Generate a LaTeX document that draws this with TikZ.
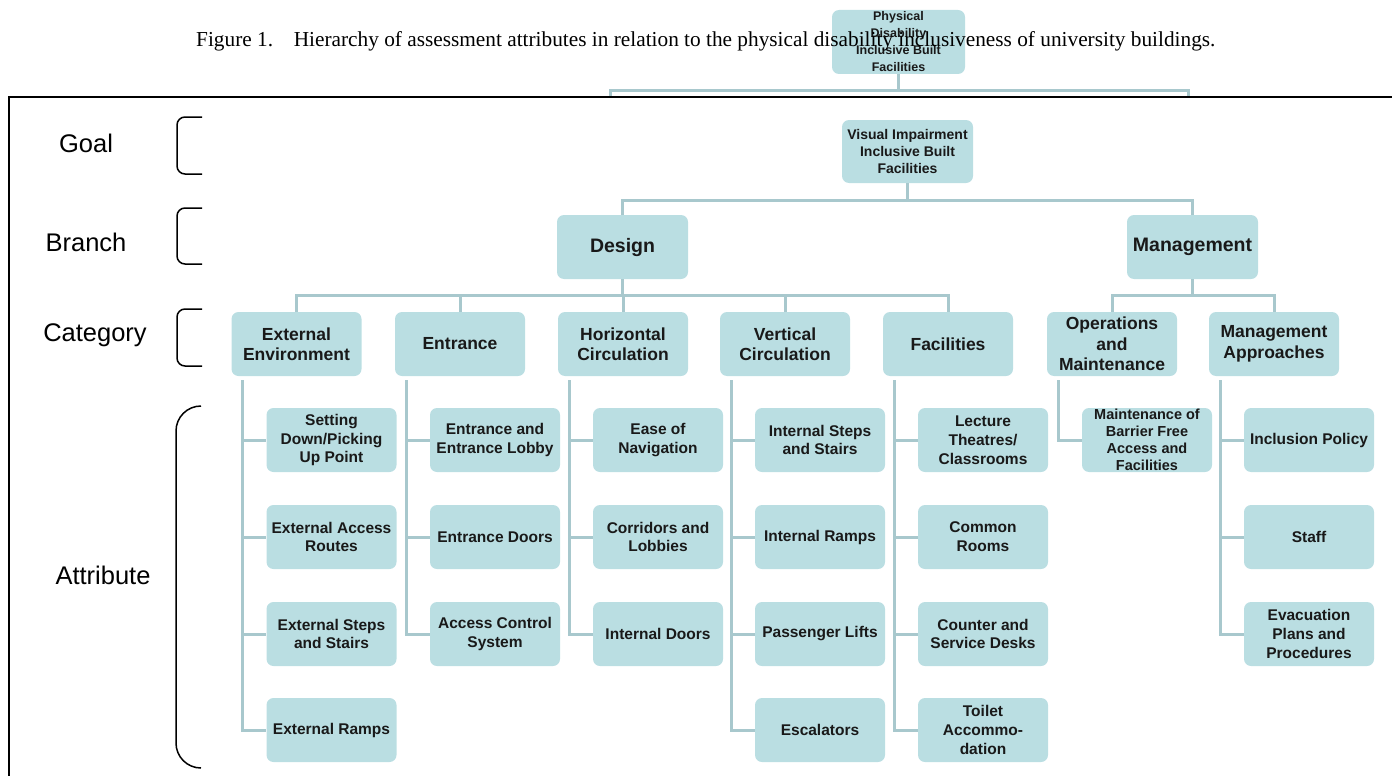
\documentclass[tikz,border=0pt]{standalone}
\usepackage{fontspec}
\setmainfont{Liberation Sans}
\newfontfamily\capfont{Liberation Serif}
\usepackage{tikz}
\usepackage{xcolor}
\definecolor{ColBox}{RGB}{186,222,226}
\definecolor{ColLine}{RGB}{168,200,205}
\tikzstyle{BoxTree}=[rounded corners=7pt,fill=ColBox,align=center,inner sep=1pt,
minimum width=130pt,minimum height=64pt,text=black!90]
\tikzstyle{TopNode}=[BoxTree,minimum width=133pt,font=\bfseries\fontsize{12.5}{17}\selectfont]
\tikzstyle{GoalNode}=[BoxTree,minimum width=131pt,minimum height=63pt,font=\bfseries\fontsize{14}{16.7}\selectfont]
\tikzstyle{BranchNode}=[BoxTree,minimum width=131pt,font=\bfseries\fontsize{19.5}{23}\selectfont]
\tikzstyle{CatNode}=[BoxTree,font=\bfseries\fontsize{17.5}{20.5}\selectfont]
\tikzstyle{AttrNode}=[BoxTree,font=\bfseries\fontsize{15.5}{18.8}\selectfont]
\tikzstyle{SmallAttrNode}=[BoxTree,font=\bfseries\fontsize{14.5}{17}\selectfont]
\tikzstyle{EdgeTree}=[ColLine,line width=3pt]
\tikzstyle{Bracket}=[black,line width=1.5pt]
\tikzstyle{LevelLabel}=[font=\fontsize{25.5}{30}\selectfont]
\begin{document}
\begin{tikzpicture}[x=1pt,y=-1pt]
        \useasboundingbox(0,0)rectangle(1392,776);
        \node[TopNode](phys)at(898.5,42){Physical\\Disability\\Inclusive Built\\Facilities};
        \node[anchor=base west,inner sep=0pt,font=\capfont\fontsize{21.3}{24}\selectfont](cap)at(196,47){Figure 1.\hspace{20.7pt}Hierarchy of assessment attributes in relation to the physical disability inclusiveness of university buildings.};
        \coordinate(ta)at(610,97);
        \coordinate(tb)at(1188,97);
        \draw[EdgeTree](phys.south)--++(0,16)-|(ta);
        \draw[EdgeTree](phys.south)--++(0,16)-|(tb);
        \draw[line width=2pt](9,776)--(9,97)--(1392,97);
        \node[LevelLabel](lgoal)at(86,143){Goal};
        \node[LevelLabel](lbranch)at(86,242){Branch};
        \node[LevelLabel](lcat)at(95,335){Category};
        \node[LevelLabel](lattr)at(103,575){Attribute};
        \draw[Bracket,rounded corners=8pt](202,117)--(177,117)--(177,174)--(202,174);
        \draw[Bracket,rounded corners=8pt](202,208)--(177,208)--(177,264)--(202,264);
        \draw[Bracket,rounded corners=8pt](202,309)--(177,309)--(177,366)--(202,366);
        \draw[Bracket,rounded corners=25pt](201,406)--(176,406)--(176,768)--(201,768);
        \node[GoalNode](goal)at(907.5,151.5){Visual Impairment\\Inclusive Built\\Facilities};
        \node[BranchNode](design)at(622.5,247){Design};
        \node[BranchNode](mgmt)at(1192.5,247){Management};
        \node[CatNode](extenv)at(296.5,344){External\\Environment};
        \node[CatNode](entr)at(460,344){Entrance};
        \node[CatNode](hcirc)at(623,344){Horizontal\\Circulation};
        \node[CatNode](vcirc)at(785,344){Vertical\\Circulation};
        \node[CatNode](facil)at(948,344){Facilities};
        \node[CatNode](opm)at(1112,344){Operations\\and\\Maintenance};
        \node[CatNode](mapp)at(1274,344){Management\\Approaches};
        \node[AttrNode](ext1)at(331.5,440){Setting\\Down/Picking\\Up Point};
        \node[AttrNode](ext2)at(331.5,537){External Access\\Routes};
        \node[AttrNode](ext3)at(331.5,634){External Steps\\and Stairs};
        \node[AttrNode](ext4)at(331.5,730){External Ramps};
        \node[AttrNode](ent1)at(495,440){Entrance and\\Entrance Lobby};
        \node[AttrNode](ent2)at(495,537){Entrance Doors};
        \node[AttrNode](ent3)at(495,634){Access Control\\System};
        \node[AttrNode](hor1)at(658,440){Ease of\\Navigation};
        \node[AttrNode](hor2)at(658,537){Corridors and\\Lobbies};
        \node[AttrNode](hor3)at(658,634){Internal Doors};
        \node[AttrNode](ver1)at(820,440){Internal Steps\\and Stairs};
        \node[AttrNode](ver2)at(820,537){Internal Ramps};
        \node[AttrNode](ver3)at(820,634){Passenger Lifts};
        \node[AttrNode](ver4)at(820,730){Escalators};
        \node[AttrNode](fac1)at(983,440){Lecture\\Theatres/\\Classrooms};
        \node[AttrNode](fac2)at(983,537){Common\\Rooms};
        \node[AttrNode](fac3)at(983,634){Counter and\\Service Desks};
        \node[AttrNode](fac4)at(983,730){Toilet\\Accommo-\\dation};
        \node[SmallAttrNode](opm1)at(1147,440){Maintenance of\\Barrier Free\\Access and\\Facilities};
        \node[AttrNode](app1)at(1309,440){Inclusion Policy};
        \node[AttrNode](app2)at(1309,537){Staff};
        \node[AttrNode](app3)at(1309,634){Evacuation\\Plans and\\Procedures};
        \draw[EdgeTree](goal.south)--++(0,17)-|(design.north);
        \draw[EdgeTree](goal.south)--++(0,17)-|(mgmt.north);
        \draw[EdgeTree](design.south)--++(0,16)-|(extenv.north);
        \draw[EdgeTree](design.south)--++(0,16)-|(entr.north);
        \draw[EdgeTree](design.south)--++(0,16)-|(hcirc.north);
        \draw[EdgeTree](design.south)--++(0,16)-|(vcirc.north);
        \draw[EdgeTree](design.south)--++(0,16)-|(facil.north);
        \draw[EdgeTree](mgmt.south)--++(0,16)-|(opm.north);
        \draw[EdgeTree](mgmt.south)--++(0,16)-|(mapp.north);
        \draw[EdgeTree]([xshift=11.5pt,yshift=-4pt]extenv.south west)|-(ext1.west);
        \draw[EdgeTree]([xshift=11.5pt,yshift=-4pt]extenv.south west)|-(ext2.west);
        \draw[EdgeTree]([xshift=11.5pt,yshift=-4pt]extenv.south west)|-(ext3.west);
        \draw[EdgeTree]([xshift=11.5pt,yshift=-4pt]extenv.south west)|-(ext4.west);
        \draw[EdgeTree]([xshift=11.5pt,yshift=-4pt]entr.south west)|-(ent1.west);
        \draw[EdgeTree]([xshift=11.5pt,yshift=-4pt]entr.south west)|-(ent2.west);
        \draw[EdgeTree]([xshift=11.5pt,yshift=-4pt]entr.south west)|-(ent3.west);
        \draw[EdgeTree]([xshift=11.5pt,yshift=-4pt]hcirc.south west)|-(hor1.west);
        \draw[EdgeTree]([xshift=11.5pt,yshift=-4pt]hcirc.south west)|-(hor2.west);
        \draw[EdgeTree]([xshift=11.5pt,yshift=-4pt]hcirc.south west)|-(hor3.west);
        \draw[EdgeTree]([xshift=11.5pt,yshift=-4pt]vcirc.south west)|-(ver1.west);
        \draw[EdgeTree]([xshift=11.5pt,yshift=-4pt]vcirc.south west)|-(ver2.west);
        \draw[EdgeTree]([xshift=11.5pt,yshift=-4pt]vcirc.south west)|-(ver3.west);
        \draw[EdgeTree]([xshift=11.5pt,yshift=-4pt]vcirc.south west)|-(ver4.west);
        \draw[EdgeTree]([xshift=11.5pt,yshift=-4pt]facil.south west)|-(fac1.west);
        \draw[EdgeTree]([xshift=11.5pt,yshift=-4pt]facil.south west)|-(fac2.west);
        \draw[EdgeTree]([xshift=11.5pt,yshift=-4pt]facil.south west)|-(fac3.west);
        \draw[EdgeTree]([xshift=11.5pt,yshift=-4pt]facil.south west)|-(fac4.west);
        \draw[EdgeTree]([xshift=11.5pt,yshift=-4pt]opm.south west)|-(opm1.west);
        \draw[EdgeTree]([xshift=11.5pt,yshift=-4pt]mapp.south west)|-(app1.west);
        \draw[EdgeTree]([xshift=11.5pt,yshift=-4pt]mapp.south west)|-(app2.west);
        \draw[EdgeTree]([xshift=11.5pt,yshift=-4pt]mapp.south west)|-(app3.west);
    \end{tikzpicture}
\end{document}
